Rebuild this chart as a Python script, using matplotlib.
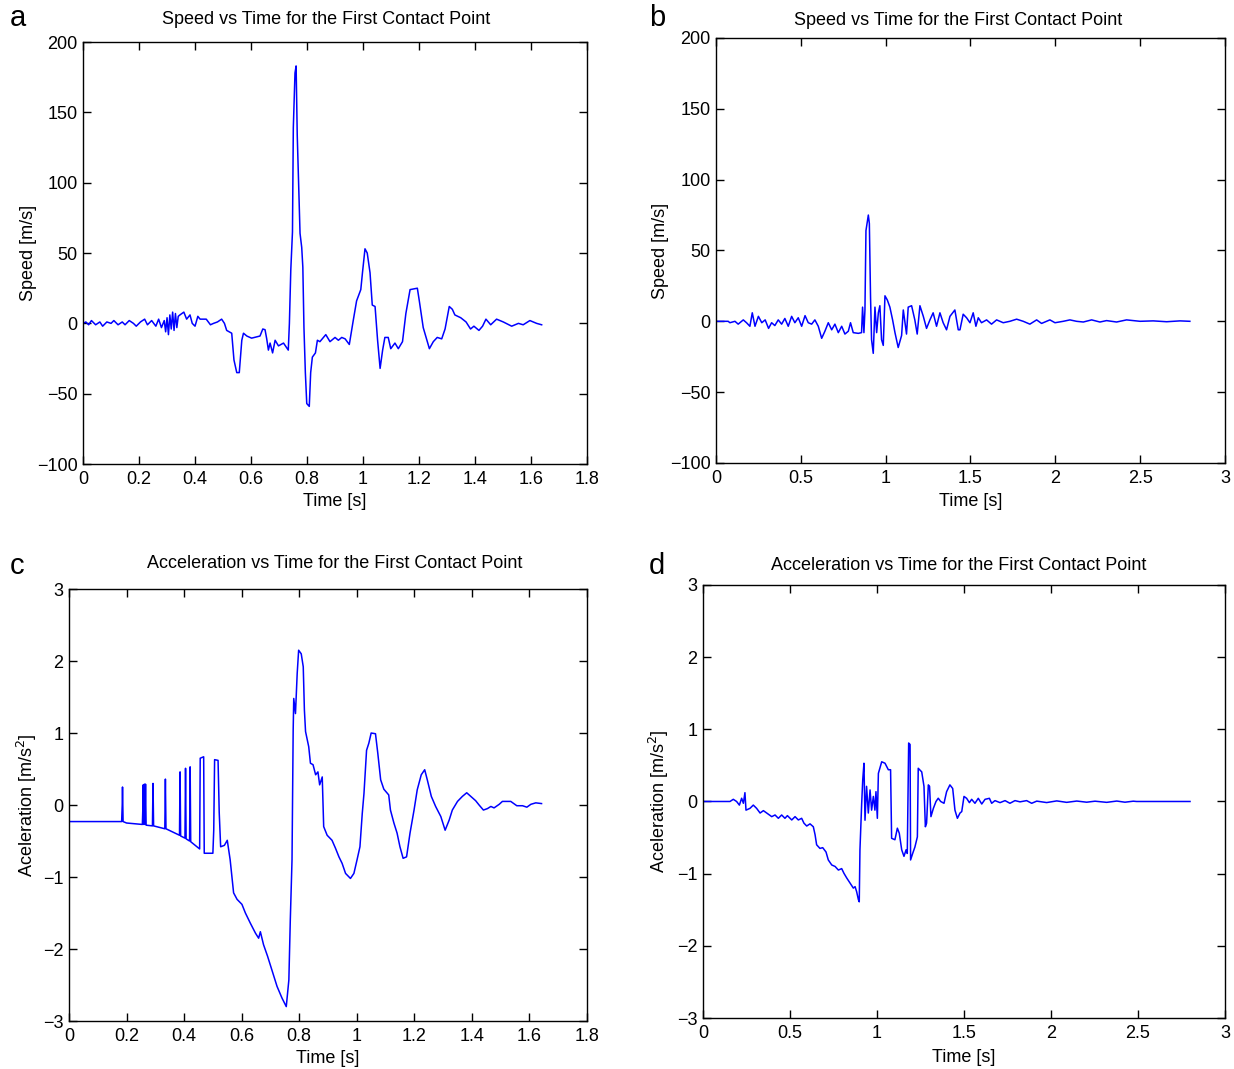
import matplotlib
matplotlib.use("Agg")
import matplotlib.pyplot as plt

plt.rcParams['font.family'] = ['Liberation Sans', 'DejaVu Sans']

# ---------------------------------------------------------------------
# panel a : speed, first run
a_t = [0.0, 0.01, 0.02, 0.03, 0.045, 0.06, 0.07, 0.085, 0.1, 0.11, 0.125, 0.14,
       0.15, 0.165, 0.18, 0.19, 0.205, 0.22, 0.23, 0.245, 0.26, 0.27, 0.28, 0.29,
       0.295, 0.30, 0.305, 0.31, 0.315, 0.32, 0.325, 0.33, 0.335, 0.34,
       0.346, 0.36, 0.37, 0.382, 0.39, 0.40, 0.41, 0.418, 0.44, 0.455, 0.466,
       0.48, 0.495, 0.505, 0.513, 0.531, 0.539, 0.549, 0.558, 0.567, 0.573,
       0.585, 0.602, 0.632, 0.642, 0.65, 0.656, 0.662, 0.668, 0.677, 0.686,
       0.698, 0.716, 0.733, 0.737, 0.742, 0.748, 0.751, 0.757, 0.761, 0.765,
       0.770, 0.775, 0.781, 0.785, 0.789, 0.794, 0.799, 0.808, 0.813, 0.819,
       0.830, 0.837, 0.846, 0.867, 0.882, 0.900, 0.912, 0.924, 0.936, 0.951,
       0.965, 0.977, 0.992, 0.998, 1.007, 1.015, 1.025, 1.033, 1.043, 1.052,
       1.061, 1.070, 1.078, 1.090, 1.099, 1.114, 1.126, 1.141, 1.153, 1.168,
       1.194, 1.201, 1.215, 1.237, 1.251, 1.265, 1.281, 1.293, 1.308, 1.319,
       1.328, 1.349, 1.368, 1.384, 1.396, 1.414, 1.427, 1.439, 1.456, 1.477,
       1.501, 1.531, 1.555, 1.572, 1.596, 1.620, 1.638]
a_v = [0, 1, -1, 2, -1, 1, -2, 1, 0, 2, -1, 1,
       -1, 2, 0, -2, 1, 3, -1, 2, -2, 3, -3, 2,
       -6, 4, -8, 6, -4, 8, -5, 7, -3, 5,
       6, 8, 3, 6, 0, -2, 5, 3, 3, -1, 0,
       1, 3, 0, -5, -7, -26, -35, -35, -12, -7,
       -9, -10.5, -9, -4, -4.5, -11, -19, -14, -21, -12,
       -16, -14, -19, 0, 38, 65, 139, 178, 183, 134,
       100, 64, 54, 40, -3, -35, -57, -59, -35, -24,
       -21, -12, -13, -8, -13, -10, -12, -10, -11, -15,
       2, 16, 24, 36, 53, 50, 36, 13, 12, -12,
       -32, -19, -10, -10, -18, -14, -18, -13, 7, 24,
       25, 16, -3, -18, -13, -10, -11, -4, 12, 10,
       6, 4, 1, -4, -2, -5, -2, 3, -1, 3,
       1, -2, 0, -1, 2, 0, -1]

# panel b : speed, second run
b_t = [0.0, 0.072, 0.082, 0.112, 0.131, 0.161, 0.18, 0.2, 0.214, 0.23, 0.25,
       0.27, 0.29, 0.31, 0.328, 0.347, 0.367, 0.387, 0.406, 0.426, 0.446,
       0.465, 0.485, 0.505, 0.525, 0.544, 0.564, 0.583, 0.603, 0.623, 0.642,
       0.662, 0.682, 0.701, 0.721, 0.741, 0.76, 0.78, 0.793, 0.809, 0.839,
       0.858, 0.864, 0.872, 0.878, 0.884, 0.898, 0.904, 0.911, 0.917, 0.927,
       0.937, 0.947, 0.957, 0.966, 0.976, 0.986, 0.996, 1.01, 1.025, 1.041,
       1.055, 1.074, 1.094, 1.104, 1.123, 1.133, 1.153, 1.172, 1.186, 1.202,
       1.222, 1.241, 1.261, 1.28, 1.3, 1.32, 1.339, 1.359, 1.379, 1.408,
       1.428, 1.438, 1.457, 1.477, 1.497, 1.516, 1.532, 1.546, 1.565, 1.595,
       1.624, 1.654, 1.693, 1.732, 1.772, 1.811, 1.85, 1.89, 1.919, 1.968,
       1.998, 2.047, 2.086, 2.125, 2.165, 2.214, 2.263, 2.302, 2.361, 2.42,
       2.499, 2.577, 2.656, 2.735, 2.793]
b_v = [0, 0, -1, 0, -2, 1, -1, -3.5, 6, -3.5, 3.5,
       -1, 1, -5, -1, -3, 1, -2, 2, -3.5, 3.5,
       -1, 2.5, -3.5, 4, -1, -2, 1, -3.5, -12, -7,
       -1, -6, -2, -8, -3.5, -9, -7, -1, -8, -8.5,
       -8, 10, -8, 8, 64, 75, 69, 17, -13, -22.6,
       10, -8, 6, 11, -13, -17, 18, 15, 10, 1,
       -8, -18.5, -10, 8, -9, 10, 11, 1, -9, 11,
       3.5, -5, 1, 6, -3.5, 6, -1, -6, 3.5, 8,
       -6, -6, 5, 2.5, -1, 6, -3.5, 2.5, -1, 1,
       -2, 1, -1, 0, 1.5, 0, -2, 1, -1.5, 1,
       -1, 0, 1, 0, -0.5, 1, -0.5, 0.5, -0.5, 1,
       0, 0.3, -0.3, 0.3, 0]

# panel c : acceleration, first run
c_t = [0.0, 0.183, 0.185, 0.186, 0.188, 0.2, 0.255, 0.257, 0.258, 0.260, 0.262,
       0.264, 0.266, 0.268, 0.290, 0.292, 0.294, 0.333, 0.335, 0.337, 0.384,
       0.386, 0.388, 0.403, 0.405, 0.407, 0.419, 0.421, 0.423, 0.454, 0.456,
       0.468, 0.470, 0.500, 0.503, 0.506, 0.518, 0.522, 0.527, 0.540, 0.550,
       0.560, 0.572, 0.584, 0.601, 0.613, 0.630, 0.648, 0.659, 0.665, 0.676,
       0.690, 0.705, 0.723, 0.740, 0.755, 0.764, 0.769, 0.775, 0.779, 0.781,
       0.787, 0.793, 0.798, 0.807, 0.814, 0.818, 0.822, 0.833, 0.839, 0.848,
       0.857, 0.865, 0.871, 0.880, 0.885, 0.897, 0.914, 0.926, 0.938, 0.949,
       0.961, 0.978, 0.990, 1.001, 1.011, 1.019, 1.025, 1.034, 1.042, 1.050,
       1.065, 1.073, 1.083, 1.094, 1.111, 1.117, 1.129, 1.140, 1.150, 1.161,
       1.173, 1.185, 1.199, 1.210, 1.224, 1.236, 1.245, 1.259, 1.274, 1.292,
       1.307, 1.321, 1.332, 1.350, 1.367, 1.382, 1.396, 1.413, 1.425, 1.440,
       1.454, 1.466, 1.477, 1.495, 1.506, 1.535, 1.556, 1.576, 1.591, 1.605,
       1.622, 1.642]
c_a = [-0.23, -0.23, 0.0, 0.25, -0.23, -0.25, -0.27, 0.0, 0.28, -0.27, 0.29,
       -0.27, 0.29, -0.28, -0.29, 0.30, -0.29, -0.33, 0.36, -0.33, -0.42,
       0.46, -0.43, -0.46, 0.51, -0.47, -0.5, 0.53, -0.51, -0.61, 0.65,
       0.67, -0.67, -0.67, -0.35, 0.63, 0.62, -0.1, -0.58, -0.56, -0.49,
       -0.76, -1.22, -1.31, -1.38, -1.5, -1.64, -1.78, -1.85, -1.76, -1.94,
       -2.1, -2.29, -2.52, -2.68, -2.8, -2.43, -1.6, -0.76, 1.04, 1.48,
       1.27, 1.83, 2.15, 2.1, 1.92, 1.32, 1.02, 0.81, 0.58, 0.56,
       0.42, 0.46, 0.28, 0.39, -0.3, -0.42, -0.49, -0.6, -0.72, -0.81,
       -0.95, -1.02, -0.95, -0.76, -0.58, -0.12, 0.16, 0.76, 0.86, 1.0,
       0.99, 0.72, 0.35, 0.22, 0.14, -0.07, -0.25, -0.39, -0.58, -0.74,
       -0.72, -0.39, -0.07, 0.21, 0.42, 0.49, 0.35, 0.12, -0.02, -0.16,
       -0.35, -0.21, -0.07, 0.05, 0.12, 0.17, 0.12, 0.06, 0.0, -0.07,
       -0.05, -0.02, -0.04, 0.01, 0.05, 0.05, -0.01, -0.01, -0.03, 0.01,
       0.03, 0.02]

# panel d : acceleration, second run
d_t = [0.0, 0.117, 0.155, 0.174, 0.193, 0.209, 0.222, 0.232, 0.241, 0.247, 0.27,
       0.289, 0.308, 0.328, 0.347, 0.366, 0.395, 0.414, 0.433, 0.452, 0.471,
       0.485, 0.51, 0.529, 0.548, 0.567, 0.58, 0.596, 0.615, 0.634, 0.644,
       0.653, 0.672, 0.688, 0.707, 0.72, 0.74, 0.759, 0.778, 0.797, 0.81,
       0.826, 0.845, 0.864, 0.874, 0.883, 0.893, 0.898, 0.902, 0.912, 0.918,
       0.925, 0.931, 0.94, 0.95, 0.96, 0.969, 0.979, 0.988, 0.994, 1.002,
       1.008, 1.027, 1.046, 1.065, 1.078, 1.084, 1.103, 1.117, 1.128, 1.142,
       1.155, 1.167, 1.174, 1.182, 1.19, 1.193, 1.205, 1.218, 1.232, 1.237,
       1.257, 1.27, 1.278, 1.285, 1.295, 1.302, 1.31, 1.324, 1.339, 1.352,
       1.366, 1.385, 1.4, 1.419, 1.435, 1.448, 1.462, 1.477, 1.487, 1.5,
       1.515, 1.531, 1.544, 1.563, 1.582, 1.602, 1.621, 1.646, 1.659, 1.678,
       1.707, 1.736, 1.764, 1.793, 1.822, 1.86, 1.889, 1.918, 1.975, 2.033,
       2.09, 2.148, 2.205, 2.253, 2.32, 2.378, 2.425, 2.473, 2.492, 2.626,
       2.799]
d_a = [0.0, 0.0, 0.0, 0.03, 0.0, -0.05, 0.045, -0.025, 0.122, -0.12, -0.095,
       -0.05, -0.095, -0.16, -0.127, -0.16, -0.21, -0.187, -0.233, -0.187, -0.233,
       -0.196, -0.256, -0.21, -0.256, -0.233, -0.30, -0.34, -0.31, -0.35, -0.46,
       -0.60, -0.65, -0.64, -0.70, -0.81, -0.88, -0.90, -0.95, -0.93, -0.995,
       -1.06, -1.13, -1.20, -1.18, -1.25, -1.36, -1.39, -0.67, -0.025, 0.30,
       0.53, -0.26, 0.21, -0.16, 0.16, -0.12, 0.07, -0.12, 0.136, -0.233,
       0.39, 0.55, 0.53, 0.44, 0.44, -0.51, -0.53, -0.37, -0.44, -0.67,
       -0.76, -0.67, -0.72, 0.81, 0.79, -0.81, -0.72, -0.63, -0.49, 0.46,
       0.41, 0.21, -0.35, -0.30, 0.23, 0.21, -0.21, -0.095, 0.0, 0.045,
       0.0, -0.025, 0.136, 0.23, 0.18, -0.12, -0.233, -0.16, -0.14, 0.07,
       0.044, -0.016, 0.03, -0.025, 0.044, -0.035, 0.03, 0.044, -0.025, 0.012,
       -0.016, 0.012, -0.025, 0.012, -0.005, 0.012, -0.025, 0.005, -0.015, 0.008,
       -0.012, 0.006, -0.01, 0.004, -0.012, 0.006, -0.01, 0.004, 0.0, 0.0,
       0.0]

# ---------------------------------------------------------------------
fig = plt.figure(figsize=(12.34, 10.69), dpi=100)

TITLE_SPEED = 'Speed vs Time for the First Contact Point'
TITLE_ACC = 'Acceleration vs Time for the First Contact Point'

panels = [
    # rect, x, y, xlim, xticks, ylim, yticks, title, title x, title pad,
    # ylabel, ylab x, xlab y, letter, letter pos
    ([0.0673, 0.5659, 0.4084, 0.3948], a_t, a_v, (0, 1.8),
     [0, 0.2, 0.4, 0.6, 0.8, 1, 1.2, 1.4, 1.6, 1.8], (-100, 200),
     [-100, -50, 0, 50, 100, 150, 200], TITLE_SPEED, 0.482, 13, 'Speed [m/s]',
     -0.091, -0.069, 'a', (0.008, 0.983)),
    ([0.5802, 0.5669, 0.4125, 0.3976], b_t, b_v, (0, 3),
     [0, 0.5, 1, 1.5, 2, 2.5, 3], (-100, 200),
     [-100, -50, 0, 50, 100, 150, 200], TITLE_SPEED, 0.476, 9, 'Speed [m/s]',
     -0.092, -0.070, 'b', (0.526, 0.983)),
    ([0.0559, 0.0449, 0.4198, 0.4041], c_t, c_a, (0, 1.8),
     [0, 0.2, 0.4, 0.6, 0.8, 1, 1.2, 1.4, 1.6, 1.8], (-3, 3),
     [-3, -2, -1, 0, 1, 2, 3], TITLE_ACC, 0.512, 15, 'Aceleration [m/s$^2$]',
     -0.058, -0.066, 'c', (0.008, 0.4705)),
    ([0.5697, 0.0477, 0.4230, 0.4051], d_t, d_a, (0, 3),
     [0, 0.5, 1, 1.5, 2, 2.5, 3], (-3, 3),
     [-3, -2, -1, 0, 1, 2, 3], TITLE_ACC, 0.49, 11, 'Aceleration [m/s$^2$]',
     -0.061, -0.072, 'd', (0.526, 0.4705)),
]

for (rect, x, y, xlim, xticks, ylim, yticks, title, tx, tpad,
     ylabel, ylx, xly, letter, lpos) in panels:
    ax = fig.add_axes(rect)
    ax.plot(x, y, color='#0000ff', lw=1.1)
    ax.set_xlim(*xlim)
    ax.set_ylim(*ylim)
    ax.set_xticks(xticks)
    ax.set_xticklabels([('%g' % v) for v in xticks])
    ax.set_yticks(yticks)
    ax.tick_params(direction='in', top=True, right=True, length=6, width=1,
                   labelsize=13)
    ax.tick_params(axis='x', pad=5)
    ax.tick_params(axis='y', pad=4)
    for s in ax.spines.values():
        s.set_linewidth(1.0)
    ax.set_title(title, fontsize=13, pad=tpad, x=tx)
    ax.set_ylabel(ylabel, fontsize=13)
    ax.yaxis.set_label_coords(ylx, 0.5)
    ax.set_xlabel('Time [s]', fontsize=13)
    ax.xaxis.set_label_coords(0.5, xly)
    fig.text(lpos[0], lpos[1], letter, fontsize=21, va='center', ha='left')

fig.savefig('out.png', dpi=100)
